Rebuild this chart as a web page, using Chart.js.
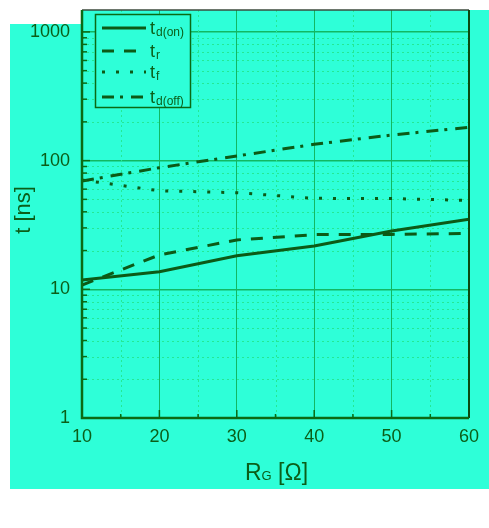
<!DOCTYPE html>
<html>
<head>
<meta charset="utf-8">
<script src="https://cdn.jsdelivr.net/npm/chart.js@4"></script>
<style>
  body { margin: 0; background: #fff; }
  canvas { display: block; }
</style>
</head>
<body>
<canvas id="tChart" width="489" height="528"></canvas>
<script>
// gate resistance (ohm) vs switching times (ns)
var rg = [10, 20, 30, 40, 50, 60];
var tdOn = [11.8, 13.7, 18.2, 21.7, 28.4, 35];
var tr = [10.8, 18.5, 24.2, 26.6, 26.7, 27.2];
var tf = [70.7, 58.3, 56.3, 50.9, 50.7, 49.1];
var tdOff = [69.5, 88.1, 108.6, 133.9, 158, 181.5];
var yTicks = [1, 10, 100, 1000];
var xTicks = [10, 20, 30, 40, 50, 60];
var xMinor = [15, 25, 35, 45, 55];

var teal = '#2effd8';
var ink = '#0b5e18';
var lineCol = '#0c5a16';

function pts(ys) {
    return rg.map(function (x, i) { return { x: x, y: ys[i] }; });
}

var seriesStyle = [
    { sub: 'd(on)', dash: [] },
    { sub: 'r', dash: [12, 10] },
    { sub: 'f', dash: [3, 11] },
    { sub: 'd(off)', dash: [12, 6, 3, 8] }
];

var decor = {
    id: 'decor',
    beforeDraw: function (chart) {
        var c = chart.ctx;
        c.save();
        c.fillStyle = '#fff';
        c.fillRect(0, 0, chart.width, chart.height);
        c.fillStyle = teal;
        c.fillRect(10, 24, 479, 465);
        c.fillRect(82, 10, 407, 14);
        c.restore();
    },
    beforeDatasetsDraw: function (chart) {
        var c = chart.ctx, a = chart.chartArea;
        var xs = chart.scales.x, ys = chart.scales.y;
        c.save();
        c.strokeStyle = '#24e894';
        c.lineWidth = 1;
        c.setLineDash([2, 3]);
        yTicks.forEach(function (d) {
            for (var k = 2; k <= 9; k++) {
                var v = d * k;
                if (v >= ys.max) continue;
                var py = Math.round(ys.getPixelForValue(v)) + 0.5;
                c.beginPath(); c.moveTo(a.left, py); c.lineTo(a.right, py); c.stroke();
            }
        });
        xMinor.forEach(function (v) {
            var px = Math.round(xs.getPixelForValue(v)) + 0.5;
            c.beginPath(); c.moveTo(px, a.top); c.lineTo(px, a.bottom); c.stroke();
        });
        c.restore();
    },
    afterDatasetsDraw: function (chart) {
        var c = chart.ctx, a = chart.chartArea;
        var xs = chart.scales.x, ys = chart.scales.y;
        c.save();
        c.setLineDash([]);
        // inward ticks
        c.strokeStyle = '#0b6a14';
        c.lineWidth = 1.5;
        yTicks.forEach(function (d) {
            for (var k = 1; k <= 9; k++) {
                var v = d * k;
                if (v >= ys.max) continue;
                var py = ys.getPixelForValue(v);
                var len = k === 1 ? 8 : 5;
                c.beginPath(); c.moveTo(a.left, py); c.lineTo(a.left + len, py); c.stroke();
            }
        });
        xTicks.concat(xMinor).forEach(function (v) {
            var px = xs.getPixelForValue(v);
            var len = xMinor.indexOf(v) >= 0 ? 4 : 8;
            c.beginPath(); c.moveTo(px, a.bottom); c.lineTo(px, a.bottom - len); c.stroke();
        });
        // frame
        c.strokeStyle = '#3c4a3c';
        c.lineWidth = 1.5;
        c.beginPath(); c.moveTo(a.left, a.top); c.lineTo(a.right, a.top); c.stroke();
        c.strokeStyle = '#0a4a10';
        c.lineWidth = 2;
        c.beginPath(); c.moveTo(a.right, a.top); c.lineTo(a.right, a.bottom); c.stroke();
        c.strokeStyle = '#0b6a14';
        c.lineWidth = 2.5;
        c.beginPath(); c.moveTo(a.left, a.top); c.lineTo(a.left, a.bottom); c.lineTo(a.right, a.bottom); c.stroke();
        c.restore();
    },
    afterDraw: function (chart) {
        var c = chart.ctx;
        c.save();
        // legend box
        c.fillStyle = teal;
        c.fillRect(95, 14, 95, 93);
        c.strokeStyle = '#0b6a14';
        c.lineWidth = 1.5;
        c.strokeRect(95.5, 14.5, 95, 93);
        var rows = [28, 51, 72, 97];
        seriesStyle.forEach(function (s, i) {
            c.strokeStyle = lineCol;
            c.lineWidth = 3;
            c.setLineDash(s.dash);
            c.beginPath(); c.moveTo(102, rows[i]); c.lineTo(146, rows[i]); c.stroke();
            c.setLineDash([]);
            c.fillStyle = ink;
            c.textBaseline = 'alphabetic';
            c.textAlign = 'left';
            c.font = '18px "Liberation Sans", Arial, sans-serif';
            c.fillText('t', 150, rows[i] + 6);
            var w = c.measureText('t').width;
            c.font = '12px "Liberation Sans", Arial, sans-serif';
            c.fillText(s.sub, 150 + w + 1, rows[i] + 8);
        });
        // x axis title
        c.fillStyle = ink;
        c.font = '23px "Liberation Sans", Arial, sans-serif';
        c.fillText('R', 245, 480);
        var rw = c.measureText('R').width;
        c.font = '13px "Liberation Sans", Arial, sans-serif';
        c.fillText('G', 245 + rw, 480);
        var gw = c.measureText('G').width;
        c.font = '23px "Liberation Sans", Arial, sans-serif';
        c.fillText(' [\u03A9]', 245 + rw + gw, 480);
        // y axis title
        c.translate(24, 210);
        c.rotate(-Math.PI / 2);
        c.textAlign = 'center';
        c.textBaseline = 'middle';
        c.font = '22px "Liberation Sans", Arial, sans-serif';
        c.fillText('t [ns]', 0, 0);
        c.restore();
    }
};

var datasets = [tdOn, tr, tf, tdOff].map(function (ys, i) {
    return {
        label: 't' + seriesStyle[i].sub,
        data: pts(ys),
        borderColor: lineCol,
        borderWidth: 3,
        borderDash: seriesStyle[i].dash,
        pointRadius: 0,
        tension: 0,
        fill: false
    };
});

var tickFont = { family: '"Liberation Sans", Arial, sans-serif', size: 18 };

var tConfig = {
    type: 'line',
    data: { datasets: datasets },
    options: {
        responsive: false,
        animation: false,
        devicePixelRatio: 1,
        layout: { padding: { left: 0, right: 20, top: 10, bottom: 0 } },
        scales: {
            x: {
                type: 'linear',
                min: 10,
                max: 60,
                afterBuildTicks: function (s) {
                    s.ticks = xTicks.map(function (v) { return { value: v }; });
                },
                afterFit: function (s) {
                    s.height = 110;
                    s.paddingLeft = 0;
                    s.paddingRight = 0;
                },
                ticks: { color: ink, font: tickFont, padding: 8, maxRotation: 0 },
                grid: { color: '#12b862', lineWidth: 1, drawTicks: false },
                border: { display: false }
            },
            y: {
                type: 'logarithmic',
                min: 1,
                max: 1480,
                afterBuildTicks: function (s) {
                    s.ticks = yTicks.map(function (v) { return { value: v }; });
                },
                afterFit: function (s) {
                    s.width = 82;
                    s.paddingTop = 0;
                    s.paddingBottom = 0;
                },
                ticks: {
                    color: ink,
                    font: tickFont,
                    padding: 12,
                    callback: function (v) { return String(v); }
                },
                grid: { color: '#12b862', lineWidth: 1.5, drawTicks: false },
                border: { display: false }
            }
        },
        plugins: {
            legend: { display: false },
            tooltip: { enabled: false }
        }
    },
    plugins: [decor]
};

var ctx = document.getElementById('tChart').getContext('2d');
var tChart = new Chart(ctx, tConfig);
</script>
</body>
</html>
